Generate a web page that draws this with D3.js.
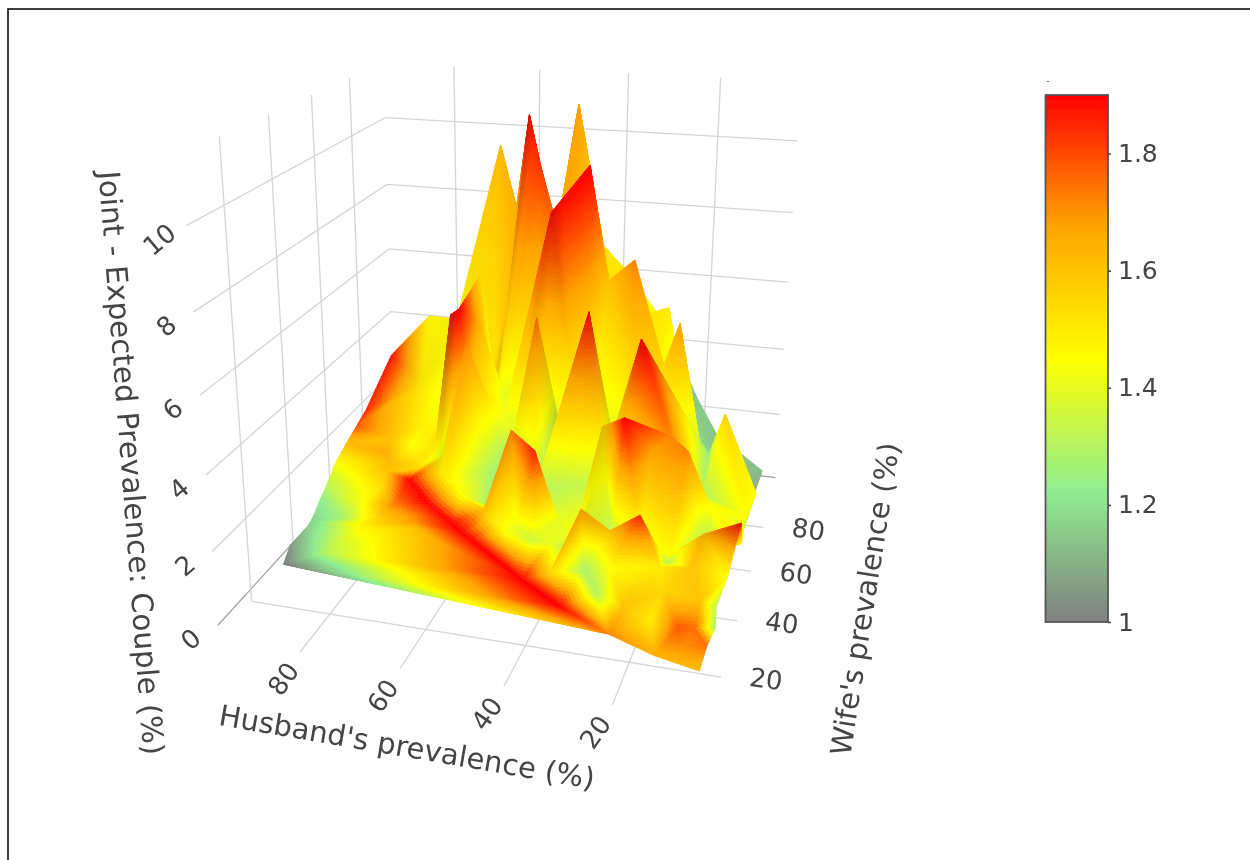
<!DOCTYPE html>
<html><head><meta charset="utf-8">
<script src="https://cdnjs.cloudflare.com/ajax/libs/d3/7.8.5/d3.min.js"></script>
<style>html,body{margin:0;padding:0;background:#fff}svg{display:block}text{font-family:"DejaVu Sans",sans-serif;fill:#444}</style>
</head><body><svg id="c" width="1250" height="860"></svg>
<script>
// ---------- data (front row first) ----------
const wifeRows = [13,18,24,31,37.6,46.5,48.5,51,55.4,60.2,64.7,67,72,76,82,88,99.4];
const husbandByRow = [
 [6],
 [15,10,5.5],
 [25,17,12,8.5,5],
 [95,36,29,23.6,16,9,6],
 [96.5,88.6,45.8,40,33,28,18,12,5],
 [96.7,84.4,72.7,58.8,52,46,42,39,36,30,24,18.4,11.3,4],
 [96.7,84,73,62,55,50,46,40,36,30,24,18,11,4],
 [97,90,82.3,74,65.3,58,52,47,42,38,33,28.6,23,15.7,11,4],
 [97.5,88,80,71.8,64,56,48,33,20,13,4],
 [98,85,78,70,60,55,49.3,44,38.4,33,27.5,13,10,3],
 [98.5,85,78,72,66,60,55,49,40,30,22,14,6],
 [99,85,78,73,66,58,48.2,40.3,36,30.7,24,21,14,6],
 [99.5,88,82,76,72,70,65,60,52,40,30,20,12,6],
 [99.5,88,80,70,66.2,63,53,45,35,25,21,13,6],
 [99.5,80,66,60.5,57.2,54,47,35,20,6],
 [99.5,85,77.3,65.4,61.8,55.6,48,42,36.5,28,22,15,6],
 [97,87,75,65,55,40,22,17,6]
];
const jointByRow = [
 [.3],
 [.1,.4,.6],
 [0,.5,.45,.5,.6],
 [0,0,.5,.25,.85,.7,.6],
 [.1,0,.1,.4,.6,.8,1,1.1,1],
 [.05,.2,.45,.35,.7,.6,.6,.55,1.7,1.2,1.75,.5,1.45,1.9],
 [.1,.25,.5,.42,.9,.8,.7,.6,.7,.8,.8,.6,.8,1.2],
 [.15,.15,.3,.5,.5,1,3.4,2.9,1,.8,3.8,4.1,3.3,3.4,2,1.5],
 [.3,.35,.5,.65,1,.8,1.5,2,3.5,2,1.5],
 [.45,.6,1,1.2,1.5,1.5,6.1,3,6.4,3,5.8,2.8,4,1.9],
 [.6,.85,1.05,1.5,5,3,2.5,2.2,2,2.2,2,1.3,.3],
 [.65,1,1.15,1.4,3.8,3,8.7,10,7,7.6,4.8,6,1.5,.3],
 [.75,.95,1.3,1.5,5.4,5.6,5.1,3.2,2.5,2.5,2.5,2,1.2,.3],
 [.9,1.25,1.8,2,6.5,2.6,9.6,5,5.5,6,3,1.5,.3],
 [1.1,2.2,3,5,10.8,5,6,5,2,.3],
 [1.3,2.4,3.9,9.75,8,5,11,7.1,6.4,5,3,1,.3],
 [2.6,4,4,4.5,3.5,2.5,2.3,1.2,.2]
];
const ratioByRow = [
 [1.62],
 [1.65,1.7,1.75],
 [1.72,1.5,1.78,1.75,1.25],
 [1,1.9,1.3,1.6,1.55,1.6,1.3],
 [1.05,1.3,1.9,1.55,1.28,1.45,1.5,1.6,1.45],
 [1.15,1.45,1.58,1.9,1.45,1.35,1.4,1.3,1.68,1.6,1.85,1.3,1.65,1.88],
 [1.16,1.5,1.68,1.9,1.5,1.4,1.4,1.4,1.35,1.3,1.4,1.45,1.25,1.5],
 [1.18,1.28,1.55,1.7,1.9,1.6,1.72,1.85,1.4,1.45,1.55,1.9,1.68,1.72,1.45,1.4],
 [1.22,1.42,1.72,1.9,1.45,1.2,1.3,1.35,1.72,1.3,1.45],
 [1.3,1.52,1.9,1.5,1.3,1.2,1.75,1.3,1.88,1.35,1.9,1.25,1.55,1.45],
 [1.38,1.6,1.55,1.45,1.72,1.45,1.38,1.3,1.3,1.4,1.3,1.2,1.25],
 [1.42,1.62,1.52,1.4,1.6,1.42,1.88,1.9,1.6,1.72,1.55,1.68,1.25,1.2],
 [1.52,1.65,1.45,1.5,1.85,1.9,1.62,1.4,1.35,1.3,1.45,1.25,1.2,1.2],
 [1.62,1.6,1.48,1.42,1.52,1.4,1.82,1.6,1.55,1.5,1.3,1.2,1.15],
 [1.78,1.45,1.5,1.65,1.88,1.65,1.6,1.5,1.2,1.12],
 [1.85,1.5,1.45,1.62,1.65,1.55,1.68,1.52,1.5,1.4,1.15,1.15,1.1],
 [1.88,1.48,1.45,1.5,1.45,1.3,1.15,1.15,1.12]
];
const husbandTicks = [80,60,40,20];
const wifeTicks = [20,40,60,80];
const jointTicks = [0,2,4,6,8,10];
const ratioTicks = [1,1.2,1.4,1.6,1.8];
const ratioStops = [1,1.225,1.45,1.675,1.9];
const ratioColors = ['#808080','#90ee90','#ffff00','#ffa500','#ff0000'];
const titleX = "Husband's prevalence (%)", titleY = "Wife's prevalence (%)", titleZ = "Joint - Expected Prevalence: Couple (%)";

// ---------- scales and camera ----------
const H = [97,3], W = [6,100], Z = [-0.35,11.6];
const sx = d3.scaleLinear().domain([80,20]).range([0,1]);
const sy = d3.scaleLinear().domain([20,80]).range([0,1]);
const sz = d3.scaleLinear().domain([-0.35,9.65]).range([0,1]);
const cam = {o:[330,614], vx:[-4400,-150], vy:[970,-200], vz:[515,4400], a:-0.0595, b:0.19, c:-0.0928};
function depth(h,w,z){return 1+cam.a*sx(h)+cam.b*sy(w)+cam.c*sz(z);}
function project(h,w,z){
  const A=cam.a*sx(h),B=cam.b*sy(w),C=cam.c*sz(z),D=1+A+B+C;
  return [(cam.o[0]+A*cam.vx[0]+B*cam.vy[0]+C*cam.vz[0])/D,(cam.o[1]+A*cam.vx[1]+B*cam.vy[1]+C*cam.vz[1])/D];
}
const color = d3.scaleLinear().domain(ratioStops).range(ratioColors).clamp(true);

const svg = d3.select('#c');
const defs = svg.append('defs');
defs.append('filter').attr('id','soft').attr('x','-5%').attr('y','-5%').attr('width','110%').attr('height','110%')
  .append('feGaussianBlur').attr('stdDeviation',0.7);
defs.append('filter').attr('id','softT').attr('x','-20%').attr('y','-20%').attr('width','140%').attr('height','140%')
  .append('feGaussianBlur').attr('stdDeviation',0.4);

// frame
svg.append('rect').attr('x',8).attr('y',9).attr('width',1400).attr('height',1000).attr('fill','#fff').attr('stroke','#111').attr('stroke-width',1.6);

// ---------- walls ----------
const grid = svg.append('g').attr('fill','none').attr('filter','url(#soft)');
const lines=[];
jointTicks.forEach(z=>{
  const col = z===0?'#a0a0a0':'#d4d4d4';
  lines.push({p:[[H[0],W[0],z],[H[0],W[1],z]],col});
  lines.push({p:[[H[0],W[1],z],[H[1],W[1],z]],col});
});
wifeTicks.forEach(w=>{
  lines.push({p:[[H[0],w,Z[0]],[H[0],w,Z[1]]],col:'#d4d4d4'});
  lines.push({p:[[H[0],w,Z[0]],[H[1],w,Z[0]]],col:'#d4d4d4'});
});
husbandTicks.forEach(h=>{
  lines.push({p:[[h,W[1],Z[0]],[h,W[1],Z[1]]],col:'#d4d4d4'});
  lines.push({p:[[h,W[0],Z[0]],[h,W[1],Z[0]]],col:'#d4d4d4'});
});
const lineGen=d3.line();
grid.selectAll('path').data(lines).join('path')
  .attr('d',d=>lineGen(d.p.map(q=>project(...q)))).attr('stroke',d=>d.col).attr('stroke-width',1.3);

// ---------- surface: stitch rows into triangles ----------
const verts=[], rows=[];
wifeRows.forEach((w,j)=>{
  rows.push(husbandByRow[j].map((h,i)=>{
    const v={h,w,z:jointByRow[j][i],r:ratioByRow[j][i],n:[0,0,0]};verts.push(v);return v;}));
});
const faces=[];
for(let j=0;j<rows.length-1;j++){
  const A=rows[j],B=rows[j+1];let i=0,k=0;
  while(i<A.length-1||k<B.length-1){
    const goA = k===B.length-1 || (i<A.length-1 && Math.abs(A[i+1].h-B[k].h)<=Math.abs(A[i].h-B[k+1].h));
    if(goA){faces.push([A[i],A[i+1],B[k]]);i++;} else {faces.push([A[i],B[k+1],B[k]]);k++;}
  }
}
faces.forEach(f=>{
  const P=f.map(v=>[-v.h/60,v.w/60,v.z/10]);
  const u=[P[1][0]-P[0][0],P[1][1]-P[0][1],P[1][2]-P[0][2]],t=[P[2][0]-P[0][0],P[2][1]-P[0][1],P[2][2]-P[0][2]];
  let n=[u[1]*t[2]-u[2]*t[1],u[2]*t[0]-u[0]*t[2],u[0]*t[1]-u[1]*t[0]];
  const L=Math.hypot(...n)||1;n=n.map(c=>c/L);if(n[2]<0)n=n.map(c=>-c);
  f.forEach(v=>{v.n[0]+=n[0];v.n[1]+=n[1];v.n[2]+=n[2];});
});
verts.forEach(v=>{const L=Math.hypot(...v.n)||1;v.n=v.n.map(c=>c/L);});
const light=[0.45,-0.45,0.77];
const bits=[];
function emit(a,b,c){
  const bary=(p)=>({h:p[0]*a.h+p[1]*b.h+p[2]*c.h,w:p[0]*a.w+p[1]*b.w+p[2]*c.w,z:p[0]*a.z+p[1]*b.z+p[2]*c.z});
  const sa=project(a.h,a.w,a.z),sb=project(b.h,b.w,b.z),sc=project(c.h,c.w,c.z);
  const e=Math.max(Math.hypot(sa[0]-sb[0],sa[1]-sb[1]),Math.hypot(sb[0]-sc[0],sb[1]-sc[1]),Math.hypot(sc[0]-sa[0],sc[1]-sa[1]));
  const n=Math.max(1,Math.ceil(e/5));
  const push=(p,q,s)=>{
    const m=[(p[0]+q[0]+s[0])/3,(p[1]+q[1]+s[1])/3,(p[2]+q[2]+s[2])/3];
    const r=m[0]*a.r+m[1]*b.r+m[2]*c.r;
    const nn=[0,1,2].map(i=>m[0]*a.n[i]+m[1]*b.n[i]+m[2]*c.n[i]);
    const L=Math.hypot(...nn)||1;
    const dot=(nn[0]*light[0]+nn[1]*light[1]+nn[2]*light[2])/L;
    const shade=0.8+0.2*Math.max(0,Math.min(1,dot/0.66));
    const col=d3.rgb(color(r));
    const fill=d3.rgb(col.r*shade,col.g*shade,col.b*shade).formatHex();
    const M=bary(m);
    bits.push({pts:[p,q,s].map(x=>{const B=bary(x);return project(B.h,B.w,B.z);}),fill,d:depth(M.h,M.w,M.z)});
  };
  for(let i=0;i<n;i++)for(let k=0;k<n-i;k++){
    const u=i/n,v=k/n,s=1/n;
    push([1-u-v,u,v],[1-u-s-v,u+s,v],[1-u-v-s,u,v+s]);
    if(i+k<n-1)push([1-u-s-v,u+s,v],[1-u-s-v-s,u+s,v+s],[1-u-v-s,u,v+s]);
  }
}
faces.forEach(f=>emit(...f));
bits.sort((p,q)=>q.d-p.d);
svg.append('g').attr('filter','url(#soft)').selectAll('polygon').data(bits).join('polygon')
  .attr('points',d=>d.pts.map(p=>p[0].toFixed(1)+','+p[1].toFixed(1)).join(' '))
  .attr('fill',d=>d.fill).attr('stroke',d=>d.fill).attr('stroke-width',0.7).attr('stroke-linejoin','round');

// ---------- tick labels and titles ----------
const labels=svg.append('g').attr('filter','url(#softT)').attr('text-anchor','middle').attr('dominant-baseline','central');
labels.selectAll('.hl').data(husbandTicks).join('text').attr('class','hl').text(d=>d).attr('font-size',26)
  .attr('transform',d=>{const p=project(d,W[0],Z[0]);return `translate(${p[0]-17},${p[1]+27}) rotate(-55)`;});
labels.selectAll('.wl').data(wifeTicks).join('text').attr('class','wl').text(d=>d).attr('font-size',26)
  .attr('transform',d=>{const p=project(H[1],d,Z[0]);return `translate(${p[0]+45},${p[1]+2}) rotate(8)`;});
labels.selectAll('.zl').data(jointTicks).join('text').attr('class','zl').text(d=>d).attr('font-size',26)
  .attr('transform',d=>{const p=project(H[0],W[0],d);return `translate(${p[0]-27},${p[1]+14}) rotate(-40)`;});
const title=(s,x,y,rot)=>labels.append('text').text(s).attr('font-size',s===titleZ?29.5:29).attr('transform',`translate(${x},${y}) rotate(${rot})`);
title(titleX,407,747,9.7);
title(titleY,865,599,-81);
title(titleZ,131,463,85.6);

// ---------- colour bar ----------
const cbY=d3.scaleLinear().domain([1,1.9]).range([622,95]);
const grad=defs.append('linearGradient').attr('id','cb').attr('x1',0).attr('y1',1).attr('x2',0).attr('y2',0);
grad.selectAll('stop').data(ratioStops).join('stop')
  .attr('offset',d=>(d-1)/0.9).attr('stop-color',(d,i)=>ratioColors[i]);
const cb=svg.append('g').attr('filter','url(#softT)');
cb.append('rect').attr('x',1045.5).attr('y',95).attr('width',62.5).attr('height',527)
  .attr('fill','url(#cb)').attr('stroke','#555').attr('stroke-width',1.8);
const ax=d3.axisRight(cbY).tickValues(ratioTicks).tickFormat(d=>d3.format('~g')(d)).tickSize(3).tickPadding(7);
const axg=cb.append('g').attr('transform','translate(1108,0)').call(ax);
axg.select('.domain').remove();
axg.selectAll('line').attr('stroke','#444').attr('stroke-width',1.5);
axg.selectAll('text').attr('font-size',25).attr('fill','#444').attr('font-family','"DejaVu Sans",sans-serif');
cb.append('text').attr('x',1048).attr('y',84).attr('font-size',9).attr('text-anchor','middle').text('-');
</script></body></html>
